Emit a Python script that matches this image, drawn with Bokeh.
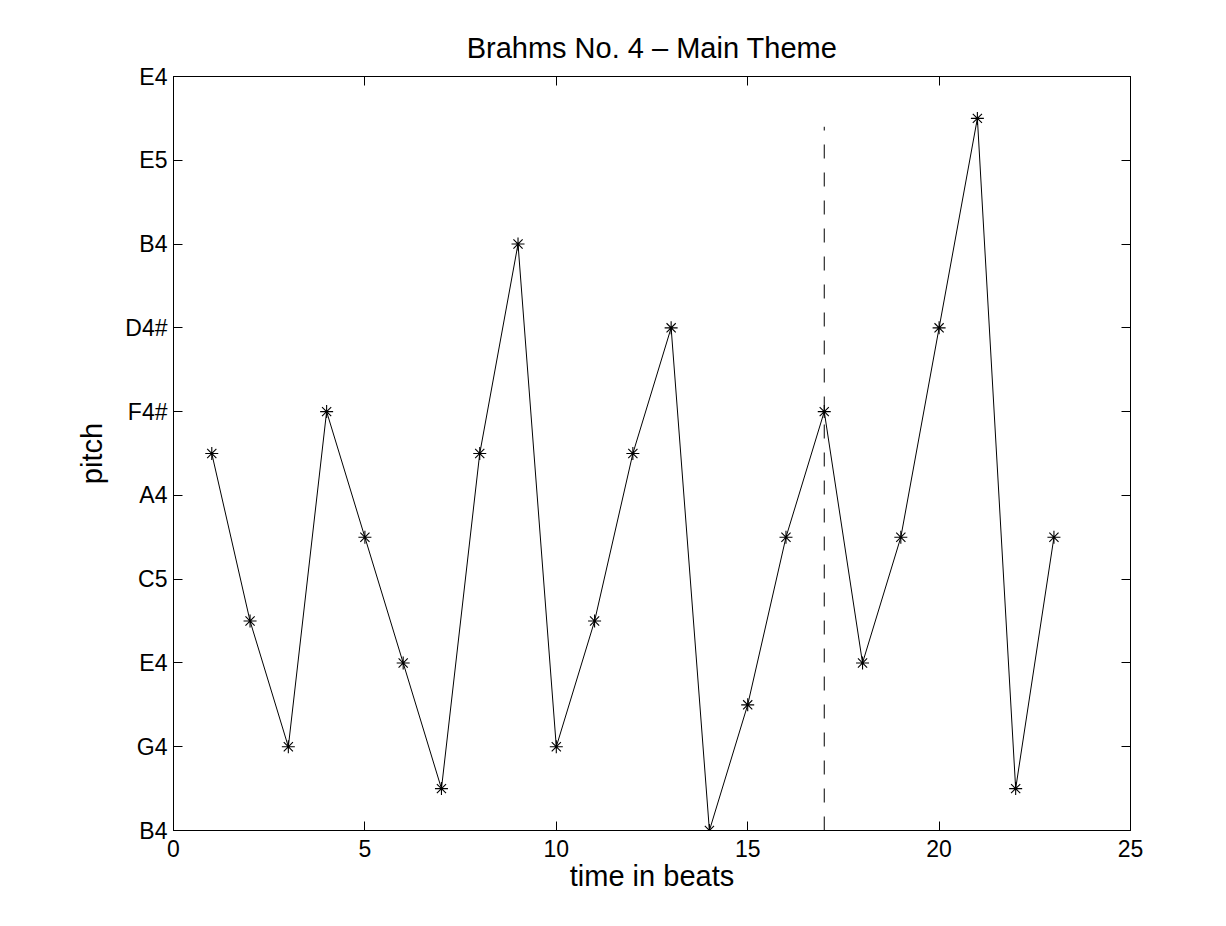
from bokeh.plotting import figure
from bokeh.models import FixedTicker, LinearAxis, Range1d, ColumnDataSource
from bokeh.embed import file_html
from bokeh.resources import INLINE

beats = list(range(1, 24))
pitch = [9, 5, 2, 10, 7, 4, 1, 9, 14, 2, 5, 9, 12, 0, 3, 7, 10, 4, 7, 12, 17, 1, 7]
ytick_vals = [0, 2, 4, 6, 8, 10, 12, 14, 16, 18]
ytick_labels = ["B4", "G4", "E4", "C5", "A4", "F4#", "D4#", "B4", "E5", "E4"]
xtick_vals = [0, 5, 10, 15, 20, 25]
marker_beat = 17
marker_top = 16.8

FONT = "Liberation Sans"

p = figure(width=1210, height=900, output_backend="svg", toolbar_location=None,
           x_range=Range1d(0, 25), y_range=Range1d(0, 18),
           min_border_left=173, min_border_right=80, min_border_top=76, min_border_bottom=70,
           title="Brahms No. 4 \u2013 Main Theme")
p.title.align = "center"
p.title.text_font = FONT
p.title.text_font_size = "29px"
p.title.text_font_style = "normal"
p.title.text_color = "black"
p.title.standoff = 25

p.grid.visible = False
p.outline_line_color = "black"
p.outline_line_width = 1
p.background_fill_color = "white"
p.border_fill_color = "white"

for ax in (p.xaxis[0], p.yaxis[0]):
    ax.major_tick_in = 9
    ax.major_tick_out = 0
    ax.minor_tick_in = 0
    ax.minor_tick_out = 0
    ax.axis_line_color = "black"
    ax.major_label_text_font = FONT
    ax.major_label_text_font_size = "23px"
    ax.major_label_text_color = "black"
    ax.axis_label_text_font = FONT
    ax.axis_label_text_font_size = "29px"
    ax.axis_label_text_font_style = "normal"
    ax.axis_label_text_color = "black"

p.xaxis[0].ticker = FixedTicker(ticks=xtick_vals)
p.xaxis[0].axis_label = "time in beats"
p.xaxis[0].major_label_standoff = 9
p.xaxis[0].axis_label_standoff = 0
p.yaxis[0].ticker = FixedTicker(ticks=ytick_vals)
p.yaxis[0].major_label_overrides = {v: l for v, l in zip(ytick_vals, ytick_labels)}
p.yaxis[0].axis_label = "pitch"
p.yaxis[0].major_label_standoff = 6
p.yaxis[0].axis_label_standoff = 14

top = LinearAxis(ticker=FixedTicker(ticks=xtick_vals), major_tick_in=9, major_tick_out=0,
                 minor_tick_in=0, minor_tick_out=0, major_label_text_alpha=0,
                 major_label_text_font_size="1px", major_label_standoff=0)
right = LinearAxis(ticker=FixedTicker(ticks=ytick_vals), major_tick_in=9, major_tick_out=0,
                   minor_tick_in=0, minor_tick_out=0, major_label_text_alpha=0,
                   major_label_text_font_size="1px", major_label_standoff=0)
p.add_layout(top, "above")
p.add_layout(right, "right")

src = ColumnDataSource(dict(x=beats, y=pitch))
p.line("x", "y", source=src, line_color="black", line_width=1)
p.scatter("x", "y", source=src, marker="asterisk", size=13, line_color="black", line_width=1.1)

p.segment(x0=[marker_beat], y0=[0], x1=[marker_beat], y1=[marker_top],
          line_color="black", line_width=1, line_dash="14 14")

open("out.html", "w").write(file_html(p, INLINE))
